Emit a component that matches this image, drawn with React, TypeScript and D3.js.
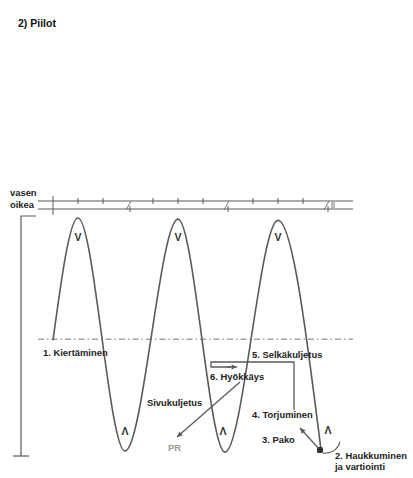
import React from "react";
import * as d3 from "d3";

// Wave: phase in cycles (x), normalised amplitude (y)
const wavePhase = [0, 0.25, 0.72, 1.25, 1.72, 2.25, 2.68];
const waveValue = [-0.05, 1.0, -1.0, 0.99, -1.01, 0.98, -0.99];
const peakPhases = [0.25, 1.25, 2.25];
const troughLabelPhases = [0.72, 1.70, 2.75];
const troughLabelValues = [-0.86, -0.86, -0.85];
const topTicks = [0.25, 0.5, 1.0, 1.25, 1.5, 2.0, 2.25, 2.5];
const bottomTicks = [0.77, 1.75, 2.75];
const midline = -0.04;
const laneTop = 1.146;
const laneBottom = 1.077;
const laneStart = -0.15;
const laneEnd = 3.0;

const W = 413;
const H = 478;

export default function App() {
  const x = d3.scaleLinear().domain([0, 1]).range([53, 153]);
  const y = d3.scaleLinear().domain([-1, 1]).range([451, 218]);

  const pts: [number, number][] = wavePhase.map((p, i) => [x(p), y(waveValue[i])]);
  const wave = d3.line().curve(d3.curveMonotoneX)(pts) || "";

  const ink = "#222";
  const line = "#5a5a5a";
  const font = "'Liberation Sans', Arial, sans-serif";

  const arrow = (x1: number, y1: number, x2: number, y2: number, key: string) => {
    const a = Math.atan2(y2 - y1, x2 - x1);
    const L = 6, s = 0.45;
    const p1 = [x2 - L * Math.cos(a - s), y2 - L * Math.sin(a - s)];
    const p2 = [x2 - L * Math.cos(a + s), y2 - L * Math.sin(a + s)];
    return (
      <g key={key}>
        <line x1={x1} y1={y1} x2={x2} y2={y2} stroke={line} strokeWidth={1.3} />
        <path d={`M${x2},${y2}L${p1[0]},${p1[1]}L${p2[0]},${p2[1]}Z`} fill={line} />
      </g>
    );
  };

  const txt = (t: string, tx: number, ty: number, extra: any = {}) => (
    <text key={t + tx} x={tx} y={ty} fontFamily={font} fontWeight="bold" fontSize={9.4} fill={ink} {...extra}>
      {t}
    </text>
  );

  const dot = [x(2.67), y(-0.991)];

  return (
    <svg width={W} height={H} style={{ position: "absolute", left: 0, top: 0, background: "#fff" }}>
      <rect width={W} height={H} fill="#fff" />
      <text x={18} y={27} fontFamily={font} fontWeight="bold" fontSize={10.5} fill="#111">2) Piilot</text>

      {/* lanes */}
      {txt("vasen", 10, 196)}
      {txt("oikea", 10, 208)}
      <line x1={x(laneStart)} x2={x(laneEnd)} y1={y(laneTop)} y2={y(laneTop)} stroke={line} strokeWidth={1} />
      <line x1={x(laneStart)} x2={x(laneEnd)} y1={y(laneBottom)} y2={y(laneBottom)} stroke={line} strokeWidth={1} />
      <line x1={x(0)} x2={x(0)} y1={y(1.189)} y2={y(1.026)} stroke={line} strokeWidth={1} />
      {topTicks.map((p) => (
        <line key={"t" + p} x1={x(p)} x2={x(p)} y1={y(laneTop) - 3} y2={y(laneTop) + 3} stroke={line} strokeWidth={1} />
      ))}
      {bottomTicks.map((p) => (
        <g key={"b" + p}>
          <line x1={x(p)} x2={x(p)} y1={y(laneBottom) - 3} y2={y(laneBottom) + 3} stroke={line} strokeWidth={1} />
          <line x1={x(p) - 4} x2={x(p) + 1} y1={y(laneBottom) + 1} y2={y(laneTop)} stroke={line} strokeWidth={0.8} />
        </g>
      ))}
      <line x1={x(2.79)} x2={x(2.79)} y1={y(laneTop) + 1} y2={y(laneBottom) - 1} stroke={line} strokeWidth={0.8} />
      <line x1={x(2.81)} x2={x(2.81)} y1={y(laneTop) + 1} y2={y(laneBottom) - 1} stroke={line} strokeWidth={0.8} />

      {/* bracket */}
      <path
        d={`M${x(-0.17)},${y(1.017)}H${x(-0.32)}V${y(-1.043)}`}
        fill="none" stroke={line} strokeWidth={1.2}
      />
      <line x1={x(-0.40)} x2={x(-0.24)} y1={y(-1.043)} y2={y(-1.043)} stroke={line} strokeWidth={1.2} />

      {/* midline */}
      <line x1={x(laneStart)} x2={x(laneEnd)} y1={y(midline)} y2={y(midline)} stroke="#777" strokeWidth={1} strokeDasharray="6 3 1.5 3" />

      {/* wave */}
      <path d={wave} fill="none" stroke={line} strokeWidth={1.6} />

      {peakPhases.map((p) => (
        <text key={"v" + p} x={x(p)} y={y(0.8)} textAnchor="middle" fontFamily={font} fontWeight="bold" fontSize={10.5} fill="#333">V</text>
      ))}
      {troughLabelPhases.map((p, i) => (
        <text key={"a" + p} x={x(p)} y={y(troughLabelValues[i])} textAnchor="middle" fontFamily={font} fontWeight="bold" fontSize={10.5} fill="#333">Λ</text>
      ))}

      {/* 4/5/6 path */}
      <path
        d={`M${x(2.41)},${y(-0.648)}V${y(-0.236)}H${x(1.58)}V${y(-0.279)}H${x(1.78)}`}
        fill="none" stroke={line} strokeWidth={1.3}
      />
      {arrow(x(1.74), y(-0.279), x(1.84), y(-0.279), "h")}
      {/* Sivukuljetus arrow */}
      {arrow(x(1.87), y(-0.408), x(1.24), y(-0.88), "s")}
      {/* Pako arrow */}
      {arrow(dot[0], dot[1], x(2.47), y(-0.803), "p")}
      {/* Haukkuminen arc */}
      <path
        d={`M${x(2.70)},${y(-1.02)}Q${x(2.84)},${y(-1.02)} ${x(2.87)},${y(-0.92)}`}
        fill="none" stroke={line} strokeWidth={1.1}
      />
      <rect x={dot[0] - 3} y={dot[1] - 3} width={6} height={6} rx={1.5} fill="#333" />

      {txt("1. Kiertäminen", 43, 356)}
      {txt("5. Selkäkuljetus", 252, 358)}
      {txt("6. Hyökkäys", 210, 380)}
      {txt("Sivukuljetus", 147, 406)}
      {txt("4. Torjuminen", 252, 418)}
      {txt("3. Pako", 262, 443)}
      {txt("PR", 168, 451, { fill: "#999" })}
      {txt("2. Haukkuminen", 335, 459)}
      {txt("ja vartiointi", 335, 470)}
    </svg>
  );
}
